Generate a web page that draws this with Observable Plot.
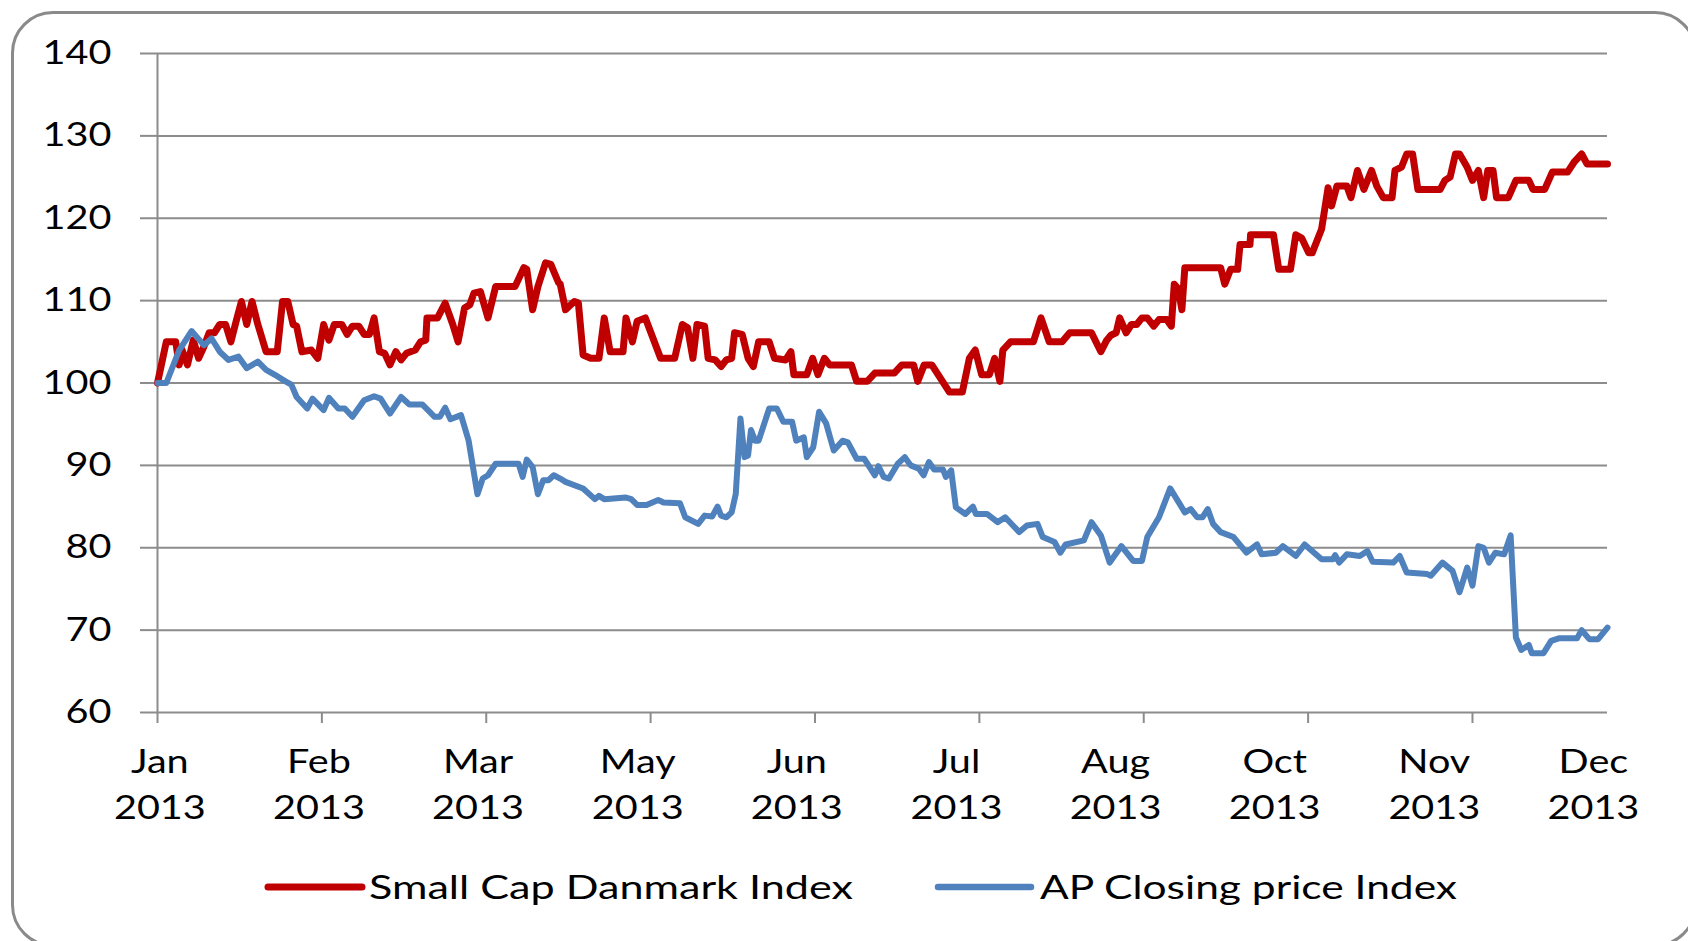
<!DOCTYPE html>
<html>
<head>
<meta charset="utf-8">
<script src="https://cdn.jsdelivr.net/npm/d3@7"></script>
<script src="https://cdn.jsdelivr.net/npm/@observablehq/plot@0.6"></script>
<style>
  html, body { margin: 0; padding: 0; background: #fff; overflow: hidden; }
  #wrap { position: relative; width: 1688px; height: 941px; overflow: hidden; font-family: Lato, "Open Sans", sans-serif; }
  #frame { position: absolute; left: 11px; top: 11px; width: 1686px; height: 936px; border: 3px solid #8a8a8a; border-radius: 42px; box-sizing: border-box; pointer-events: none; }
  #chart svg, #legend svg { display: block; }
</style>
</head>
<body>
<div id="wrap">
  <div id="chart"></div>
  <div id="legend"></div>
  <div id="frame"></div>
</div>
<script>
// ---- Data (trading-day index from first trading day of 2013, index value) ----
const smallCapDay = [0,1.5,3.1,3.7,4.2,5.1,6.1,7.0,7.9,8.8,9.7,10.6,11.6,12.5,13.4,14.3,15.2,16.1,17.1,18.5,20.4,21.3,22.2,23.1,23.7,24.6,26.2,27.3,28.3,29.2,30.1,31.4,32.3,33.2,34.3,35.2,36.1,36.9,37.8,38.7,39.6,40.6,41.5,42.4,43.9,44.8,45.7,45.9,47.7,49.0,50.3,51.2,52.3,53.2,53.9,55.0,56.3,57.6,60.9,62.4,62.9,63.9,64.8,66.1,67.0,68.3,68.6,69.5,71.0,71.7,72.5,73.8,75.2,76.1,77.1,79.3,79.8,80.9,81.7,83.1,85.7,88.1,89.4,90.3,91.2,91.9,93.2,93.8,95.0,96.0,96.9,97.8,98.3,99.6,100.6,101.5,102.4,104.2,105.1,107.0,107.9,108.4,110.6,111.6,112.5,113.6,114.5,118.2,119.1,120.9,122.2,125.5,126.8,128.8,129.5,130.6,131.9,134.9,137.1,138.3,139.3,140.4,141.7,142.6,143.5,144.0,145.3,149.2,150.5,151.9,154.1,155.4,159.1,160.7,161.7,162.4,163.3,163.9,165.0,165.9,166.8,167.7,168.6,169.7,170.6,171.9,172.7,173.2,173.9,174.5,175.0,181.1,181.8,182.8,184.0,184.4,186.1,186.2,190.1,191.0,193.0,193.9,194.9,196.1,196.7,198.3,199.4,200.0,200.9,202.6,203.3,204.4,205.5,206.8,207.7,208.8,210.3,210.8,211.9,212.8,213.8,214.7,218.5,219.3,220.2,221.1,221.8,223.1,224.0,225.0,225.9,226.6,227.5,228.1,230.1,231.4,233.6,234.3,236.3,237.6,240.2,241.3,242.6,243.5,247.0];
const smallCapValue = [100.0,105.0,105.0,102.2,104.0,102.2,105.2,103.0,104.4,106.1,106.1,107.1,107.1,105.0,107.5,109.9,107.1,109.9,107.1,103.8,103.8,109.9,109.9,107.1,106.9,103.8,104.0,103.0,107.1,105.2,107.1,107.1,105.9,106.9,106.9,105.9,105.9,107.9,103.8,103.6,102.2,103.8,102.8,103.6,104.0,105.0,105.2,107.9,107.9,109.7,107.1,105.0,109.1,109.5,110.9,111.1,107.9,111.7,111.7,114.0,113.8,108.9,111.7,114.6,114.4,112.2,112.0,108.9,109.9,109.7,103.4,103.0,103.0,107.9,103.8,103.8,107.9,105.0,107.5,107.9,103.0,103.0,107.1,106.7,103.0,107.1,106.9,103.0,102.8,102.0,102.8,103.0,106.1,105.9,103.0,102.0,105.0,105.0,103.0,102.8,103.8,101.0,101.0,103.0,101.0,103.0,102.2,102.2,100.2,100.2,101.2,101.2,102.2,102.2,100.2,102.2,102.2,98.9,98.9,103.0,104.0,101.0,101.0,103.0,100.2,104.0,105.0,105.0,107.9,105.0,105.0,106.1,106.1,103.8,105.2,105.8,106.1,107.9,106.1,107.1,107.1,107.9,107.9,106.9,107.7,107.7,106.9,112.0,111.4,108.9,114.0,114.0,112.0,113.8,113.8,116.8,116.8,118.0,118.0,113.8,113.8,118.0,117.6,115.8,115.8,118.7,123.7,121.5,123.9,123.9,122.5,125.8,123.5,125.8,123.9,122.5,122.5,125.8,126.2,127.8,127.8,123.5,123.5,124.6,125.0,127.8,127.8,126.2,124.6,125.8,122.5,125.8,125.8,122.5,122.5,124.6,124.6,123.5,123.5,125.6,125.6,126.8,127.8,126.6,126.6];

const apDay = [0,1.5,3.7,5.8,7.9,9.2,10.6,12.1,13.8,15.2,17.1,18.5,20.0,21.8,22.8,23.7,25.5,26.4,28.3,29.2,30.8,31.9,33.2,35.2,36.9,38.0,39.6,41.5,42.9,45.1,47.2,48.1,49.0,49.9,51.7,53.0,54.5,55.4,56.3,57.6,61.5,62.2,62.9,63.9,64.8,65.7,66.6,67.5,68.6,69.5,72.5,74.5,75.2,76.1,79.8,80.7,81.7,83.3,85.3,86.2,89.0,89.9,92.1,93.2,94.5,95.4,96.0,96.9,97.8,98.5,99.3,100.0,100.6,101.1,101.8,102.4,104.2,105.5,106.6,108.1,108.8,110.1,110.6,111.7,112.7,113.9,115.2,116.7,117.6,119.1,120.4,122.2,122.8,123.7,124.6,126.1,127.3,128.3,129.7,130.5,131.4,132.3,133.8,134.3,135.2,136.0,137.6,138.9,139.4,141.3,143.1,144.4,146.8,148.1,149.9,150.8,152.8,153.8,154.7,157.8,159.1,160.7,162.2,164.2,166.2,167.7,168.6,170.6,172.5,175.0,176.0,177.1,178.0,178.9,179.8,181.1,183.3,185.5,187.3,188.1,190.5,191.7,193.9,195.4,198.3,200.2,200.6,201.3,202.6,204.8,206.1,207.0,210.5,211.6,212.8,216.3,216.9,218.9,220.6,221.8,223.1,224.0,225.0,225.9,226.8,227.9,229.4,230.5,231.4,232.3,233.6,234.1,236.1,237.4,238.7,241.8,242.6,243.9,245.4,247.0];
const apValue = [100.0,100.0,104.0,106.3,104.6,105.4,103.8,102.8,103.2,101.8,102.6,101.6,101.0,100.2,99.8,98.3,96.9,98.1,96.7,98.2,96.9,96.9,95.9,97.9,98.4,98.1,96.3,98.3,97.4,97.4,95.9,95.9,97.0,95.6,96.1,93.0,86.5,88.4,88.8,90.2,90.2,88.6,90.7,89.8,86.5,88.2,88.2,88.8,88.4,88.0,87.2,85.9,86.3,85.9,86.1,85.9,85.2,85.2,85.8,85.5,85.4,83.7,82.9,83.9,83.8,85.0,83.9,83.7,84.3,86.5,95.7,91.0,91.2,94.3,93.0,93.0,96.9,96.9,95.3,95.3,93.0,93.4,91.0,92.2,96.5,95.1,91.8,93.0,92.8,90.8,90.8,88.8,89.9,88.6,88.4,90.2,91.0,90.0,89.6,88.8,90.4,89.5,89.5,88.6,89.4,84.9,84.1,85.0,84.1,84.1,83.1,83.7,81.9,82.7,82.9,81.3,80.7,79.4,80.4,80.9,83.1,81.5,78.2,80.2,78.4,78.4,81.3,83.7,87.2,84.3,84.7,83.7,83.7,84.7,82.9,81.9,81.3,79.4,80.4,79.2,79.4,80.2,79.0,80.4,78.6,78.6,79.1,78.2,79.2,79.0,79.6,78.3,78.2,79.0,77.0,76.8,76.6,78.2,77.2,74.6,77.6,75.4,80.2,80.0,78.2,79.4,79.2,81.5,69.1,67.6,68.2,67.2,67.2,68.7,69.0,69.0,70.0,68.9,68.9,70.3,70.5];

const seriesNames = ["Small Cap Danmark Index", "AP Closing price Index"];
const seriesColors = ["#C00000", "#4F81BD"];

const yTicks = [60, 70, 80, 90, 100, 110, 120, 130, 140];
const xTickDays = [0, 28, 56, 84, 112, 140, 168, 196, 224];
const xLabelDays = [0.4, 27.5, 54.6, 81.8, 108.9, 136.1, 163.2, 190.3, 217.5, 244.6];
const xLabelMonths = ["Jan", "Feb", "Mar", "May", "Jun", "Jul", "Aug", "Oct", "Nov", "Dec"];
const xLabelYear = "2013";

// ---- Chart ----
const gridColor = "#8c8c8c";
const labelMap = new Map(xLabelDays.map((d, i) => [d, xLabelMonths[i] + "\n" + xLabelYear]));

const chart = Plot.plot({
  width: 1688,
  height: 850,
  marginTop: 53,
  marginLeft: 157,
  marginRight: 81,
  marginBottom: 138,
  style: { fontFamily: "Lato, 'Open Sans', sans-serif", fontSize: "33px", color: "#000", background: "transparent" },
  x: { domain: [0, 247], label: null },
  y: { domain: [60, 140], label: null },
  marks: [
    Plot.gridY(yTicks, { stroke: gridColor, strokeOpacity: 1, strokeWidth: 2 }),
    Plot.ruleX([0], { y1: 60, y2: 140, stroke: gridColor, strokeWidth: 2 }),
    Plot.axisY(yTicks, { tickSize: 17, tickPadding: 29, stroke: gridColor, strokeWidth: 2, strokeOpacity: 1, fill: "#000", fontSize: 33, tickFormat: d => String(d) }),
    Plot.axisX(xTickDays, { tickSize: 11, stroke: gridColor, strokeWidth: 2, strokeOpacity: 1, tickFormat: () => "" }),
    Plot.axisX(xLabelDays, { tickSize: 0, tickPadding: 27, fill: "#000", fontSize: 33, lineHeight: 1.415, tickFormat: d => labelMap.get(d) }),
    Plot.lineY(smallCapValue, { x: smallCapDay, stroke: seriesColors[0], strokeWidth: 7, strokeLinejoin: "round", strokeLinecap: "round" }),
    Plot.lineY(apValue, { x: apDay, stroke: seriesColors[1], strokeWidth: 6, strokeLinejoin: "round", strokeLinecap: "round" })
  ]
});
document.getElementById("chart").appendChild(chart);

// Horizontally widen axis text (the reference's lettering is stretched)
const SX = 1.2;
chart.querySelectorAll("text").forEach(t => {
  const tr = t.getAttribute("transform");
  if (tr) {
    t.setAttribute("transform", tr + ` scale(${SX},1)`);
  } else {
    const x = +t.getAttribute("x") || 0, y = +t.getAttribute("y") || 0;
    t.removeAttribute("x"); t.removeAttribute("y");
    t.setAttribute("transform", `translate(${x},${y}) scale(${SX},1)`);
  }
});

// ---- Legend ----
const legendLayout = [
  { x1: 268, x2: 362, tx: 369, tw: 484, sw: 7 },
  { x1: 938, x2: 1031, tx: 1040, tw: 417, sw: 6.5 }
];
const lg = d3.create("svg").attr("width", 1688).attr("height", 91);
seriesNames.forEach((name, i) => {
  const L = legendLayout[i];
  lg.append("line").attr("x1", L.x1).attr("x2", L.x2).attr("y1", 37).attr("y2", 37)
    .attr("stroke", seriesColors[i]).attr("stroke-width", L.sw).attr("stroke-linecap", "round");
  lg.append("text").attr("x", L.tx).attr("y", 49)
    .attr("font-family", "Lato, 'Open Sans', sans-serif").attr("font-size", 33).attr("fill", "#000")
    .attr("textLength", L.tw).attr("lengthAdjust", "spacingAndGlyphs")
    .text(name);
});
document.getElementById("legend").appendChild(lg.node());
</script>
</body>
</html>
